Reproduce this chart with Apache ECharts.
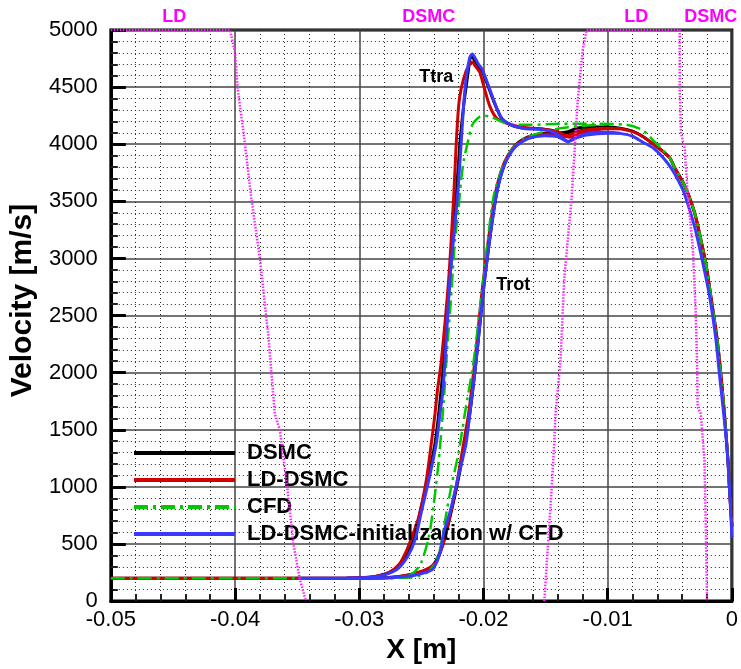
<!DOCTYPE html>
<html><head><meta charset="utf-8">
<script src="https://cdn.jsdelivr.net/npm/echarts@6/dist/echarts.min.js"></script>
<style>html,body{margin:0;padding:0;background:#fff}#c{width:741px;height:669px}</style>
</head><body><div id="c"></div><script>
// ---- data (x [m], velocity [m/s]) ----
const seriesNames = ['DSMC', 'LD-DSMC', 'CFD', 'LD-DSMC-initialization w/ CFD'];

const dsmcTtra = [[-0.05,200],[-0.031,200],[-0.0287,215],[-0.0272,270],[-0.0263,380],[-0.0256,540],[-0.0251,780],[-0.0245,1060],[-0.0239,1380],[-0.0236,1640],[-0.0232,2095],[-0.0227,2820],[-0.0222,3534],[-0.0219,4000],[-0.0216,4336],[-0.0213,4580],[-0.0211,4740],[-0.0210,4775],[-0.0208,4750],[-0.0205,4700],[-0.0201,4640],[-0.0195,4470],[-0.0190,4330],[-0.0185,4220],[-0.0177,4165],[-0.0167,4140],[-0.0155,4135],[-0.0145,4120],[-0.0138,4100],[-0.0132,4110],[-0.0125,4140],[-0.0115,4150],[-0.0100,4150],[-0.0090,4140],[-0.0080,4115],[-0.0072,4070],[-0.0063,4000],[-0.0057,3950],[-0.0050,3880],[-0.0046,3793],[-0.0040,3680],[-0.0035,3560],[-0.0030,3400],[-0.0026,3215],[-0.0021,2957],[-0.0017,2672],[-0.0012,2302],[-0.0009,2000],[-0.0006,1640],[-0.0003,1207],[-0.0002,1000],[0,650]];
const dsmcTrot = [[-0.031,200],[-0.0280,205],[-0.0262,225],[-0.0248,265],[-0.0241,310],[-0.0236,400],[-0.0231,560],[-0.0226,780],[-0.0220,1080],[-0.0215,1380],[-0.0211,1640],[-0.0206,2095],[-0.0199,2820],[-0.0190,3534],[-0.0183,3830],[-0.0175,3985],[-0.0164,4065],[-0.0152,4095],[-0.0142,4100],[-0.0134,4090],[-0.0125,4110],[-0.0112,4135],[-0.0100,4150]];

const ldTtra = [[-0.05,200],[-0.032,200],[-0.029,212],[-0.0277,245],[-0.0268,320],[-0.0262,440],[-0.0257,580],[-0.0252,740],[-0.0246,1060],[-0.0242,1380],[-0.0239,1640],[-0.0237,1850],[-0.0234,2095],[-0.0228,2820],[-0.0224,3534],[-0.0222,3990],[-0.0220,4336],[-0.0218,4483],[-0.0214,4640],[-0.0211,4700],[-0.0209,4720],[-0.0207,4690],[-0.0203,4630],[-0.0200,4520],[-0.0195,4336],[-0.0189,4224],[-0.0180,4180],[-0.0170,4150],[-0.0160,4140],[-0.0150,4130],[-0.0140,4110],[-0.0133,4075],[-0.0125,4105],[-0.0115,4130],[-0.0100,4140],[-0.0090,4135],[-0.0080,4110],[-0.0072,4070],[-0.0063,4000],[-0.0057,3950],[-0.0050,3880],[-0.0046,3793],[-0.0040,3680],[-0.0035,3560],[-0.0030,3400],[-0.0026,3215],[-0.0021,2957],[-0.0017,2672],[-0.0012,2302],[-0.0009,2000],[-0.0006,1640],[-0.0003,1207],[-0.0002,1000],[0,650]];
const ldTrot = [[-0.031,200],[-0.0280,205],[-0.0265,220],[-0.0250,260],[-0.0242,300],[-0.0238,345],[-0.0233,480],[-0.0228,700],[-0.0222,1000],[-0.0216,1380],[-0.0212,1640],[-0.0207,2095],[-0.0200,2820],[-0.0191,3534],[-0.0184,3820],[-0.0176,3970],[-0.0165,4055],[-0.0152,4090],[-0.0142,4090],[-0.0135,4070],[-0.0130,4060],[-0.0122,4100],[-0.0110,4125],[-0.0100,4135],[-0.0090,4135]];

const cfdTtra = [[-0.05,200],[-0.029,200],[-0.0264,210],[-0.0256,250],[-0.0250,340],[-0.0244,560],[-0.0240,850],[-0.0236,1230],[-0.0232,1750],[-0.0229,2241],[-0.0226,2672],[-0.0223,3150],[-0.0220,3450],[-0.0218,3680],[-0.0216,3850],[-0.0213,4000],[-0.0209,4170],[-0.0203,4240],[-0.0199,4250],[-0.0193,4235],[-0.0185,4195],[-0.0177,4170],[-0.0161,4170],[-0.0138,4180],[-0.0112,4180],[-0.0085,4170],[-0.0072,4125],[-0.0063,4030],[-0.0057,3965],[-0.0050,3880],[-0.0046,3793],[-0.0040,3680],[-0.0035,3560],[-0.0030,3400],[-0.0026,3215],[-0.0021,2957],[-0.0017,2672],[-0.0012,2302],[-0.0009,2000],[-0.0006,1640],[-0.0003,1207],[-0.0002,1000],[0,650]];
const cfdTrot = [[-0.029,200],[-0.0269,202],[-0.0252,220],[-0.0244,260],[-0.0239,330],[-0.0235,450],[-0.0231,700],[-0.0226,1000],[-0.0220,1300],[-0.0215,1640],[-0.0208,2095],[-0.0200,2820],[-0.0192,3534],[-0.0184,3820],[-0.0176,3970],[-0.0165,4060],[-0.0151,4110],[-0.0138,4140],[-0.0122,4160],[-0.0106,4170]];

const initTtra = [[-0.035,200],[-0.031,200],[-0.0285,215],[-0.0270,275],[-0.0261,390],[-0.0255,540],[-0.0250,780],[-0.0244,1060],[-0.0238,1380],[-0.0235,1640],[-0.0233,1810],[-0.0231,2095],[-0.0227,2820],[-0.0221,3534],[-0.0218,4000],[-0.0216,4336],[-0.0214,4570],[-0.0211,4760],[-0.0209,4790],[-0.0207,4760],[-0.0204,4700],[-0.0201,4655],[-0.0195,4483],[-0.0190,4336],[-0.0185,4224],[-0.0177,4165],[-0.0167,4138],[-0.0155,4130],[-0.0145,4110],[-0.0138,4070],[-0.0132,4025],[-0.0126,4055],[-0.0118,4090],[-0.0110,4105],[-0.0100,4105],[-0.0090,4095],[-0.0080,4070],[-0.0072,4020],[-0.0063,3965],[-0.0056,3890],[-0.0049,3793],[-0.0043,3680],[-0.0038,3560],[-0.0030,3276],[-0.0024,2991],[-0.0018,2672],[-0.0013,2302],[-0.0010,1983],[-0.0008,1784],[-0.0004,1353],[-0.00016,922],[0,560]];
const initTrot = [[-0.031,200],[-0.0280,203],[-0.0256,225],[-0.0244,260],[-0.0240,290],[-0.0235,420],[-0.0232,600],[-0.0227,776],[-0.0220,1100],[-0.0214,1380],[-0.0211,1640],[-0.0206,2095],[-0.0199,2820],[-0.0190,3534],[-0.0183,3820],[-0.0175,3970],[-0.0164,4050],[-0.0151,4075],[-0.0140,4065],[-0.0132,4022],[-0.0125,4055],[-0.0117,4080],[-0.0100,4095],[-0.0090,4095]];

// LD / DSMC interface lines
const interfaceLeft = [[-0.05,5000],[-0.0404,5000],[-0.0400,4800],[-0.0398,4500],[-0.0392,4000],[-0.0387,3534],[-0.0380,3000],[-0.0373,2300],[-0.0368,1640],[-0.0364,1500],[-0.0358,1000],[-0.0353,500],[-0.0348,200],[-0.0343,0]];
const interfaceRight = [[-0.0151,0],[-0.0148,500],[-0.0145,1000],[-0.0143,1400],[-0.0142,1640],[-0.0138,2100],[-0.0135,2820],[-0.0129,3534],[-0.0124,4400],[-0.0120,4830],[-0.0117,5000],[-0.0042,5000],[-0.0042,4500],[-0.0041,4100],[-0.0038,3965],[-0.00354,3534],[-0.00315,3103],[-0.00291,2526],[-0.0028,2069],[-0.00276,1700],[-0.0025,1640],[-0.0022,1207],[-0.0021,630],[-0.0020,0]];

// annotations
const regionLabels = ['LD', 'DSMC', 'LD', 'DSMC'];
const regionLabelX = [-0.0449, -0.0244, -0.0077, -0.0017];
const curveLabels = ['Ttra', 'Trot'];
const curveLabelPos = [[-0.0238, 4586], [-0.0176, 2767]];

// axes
const xMin = -0.05, xMax = 0, xStep = 0.01;
const yMin = 0, yMax = 5000, yStep = 500;

const FONT = '"Liberation Sans", Arial, sans-serif';
const colors = {DSMC:'#000000', 'LD-DSMC':'#d00000', CFD:'#00c800', 'LD-DSMC-initialization w/ CFD':'#3838ff'};
const dashDot = [14, 5, 3, 5];

function mk(name, data, width, type, z) {
  return {name, type:'line', data, symbol:'none', showSymbol:false, smooth:0.25,
    lineStyle:{color:colors[name], width, type}, itemStyle:{color:colors[name]}, z, animation:false};
}
function iface(data) {
  return {name:'interface', type:'line', data, symbol:'none', showSymbol:false,
    lineStyle:{color:'#ff22ff', width:2.5, type:[1.5,1.5]}, z:10, animation:false, silent:true};
}

const axisCommon = {
  axisLine:{show:true, onZero:false, lineStyle:{color:'#000', width:3}},
  splitLine:{show:true, lineStyle:{color:'#444', width:1.5}},
  minorSplitLine:{show:true, lineStyle:{color:'#222', width:1, type:[1,3]}},
};

const chart = echarts.init(document.getElementById('c'), null, {renderer:'canvas'});
chart.setOption({
  backgroundColor:'#fff',
  animation:false,
  grid:{left:100, right:7, top:30, bottom:59, show:true, borderColor:'#000', borderWidth:3},
  xAxis:Object.assign({type:'value', min:xMin, max:xMax, interval:xStep,
    axisTick:{show:true, inside:true, length:13, lineStyle:{color:'#000', width:3}},
    minorTick:{show:true, splitNumber:5, length:7, lineStyle:{color:'#222', width:2}},
    axisLabel:{color:'#000', fontSize:22, fontFamily:FONT, margin:8, formatter:v => String(v)},
    name:'X [m]', nameLocation:'middle', nameGap:26,
    nameTextStyle:{fontSize:28, fontWeight:'bold', color:'#000', fontFamily:FONT}}, axisCommon),
  yAxis:Object.assign({type:'value', min:yMin, max:yMax, interval:yStep,
    axisTick:{show:true, inside:true, length:15, lineStyle:{color:'#000', width:3}},
    minorTick:{show:true, splitNumber:5, length:7, lineStyle:{color:'#222', width:2}},
    axisLabel:{color:'#000', fontSize:22, fontFamily:FONT, margin:13, formatter:v => String(v)},
    name:'Velocity [m/s]', nameLocation:'middle', nameGap:54,
    nameTextStyle:{fontSize:30, fontWeight:'bold', color:'#000', fontFamily:FONT, padding:[0,0,0,30]}}, axisCommon),
  legend:{data:seriesNames, orient:'vertical', left:127, top:436, itemWidth:101, itemHeight:14, itemGap:3,
    itemStyle:{opacity:0}, lineStyle:{width:4},
    textStyle:{fontSize:22, fontWeight:'bold', color:'#000', fontFamily:FONT, lineHeight:24, padding:[0,0,0,7]},
    selectedMode:false},
  series:[
    mk('DSMC', dsmcTtra, 3, 'solid', 2), mk('DSMC', dsmcTrot, 3, 'solid', 2),
    mk('LD-DSMC', ldTtra, 3, 'solid', 3), mk('LD-DSMC', ldTrot, 3, 'solid', 3),
    mk('CFD', cfdTtra, 2.5, dashDot, 4), mk('CFD', cfdTrot, 2.5, dashDot, 4),
    mk('LD-DSMC-initialization w/ CFD', initTtra, 3, 'solid', 5), mk('LD-DSMC-initialization w/ CFD', initTrot, 3, 'solid', 5),
    iface(interfaceLeft), iface(interfaceRight)
  ]
});

const g = [];
regionLabels.forEach((t, i) => {
  const p = chart.convertToPixel({gridIndex:0}, [regionLabelX[i], yMax]);
  g.push({type:'text', x:p[0], y:p[1]-13, style:{text:t, fill:'#ff00ff', font:'bold 18px ' + FONT, align:'center', verticalAlign:'middle'}, z:20});
});
curveLabels.forEach((t, i) => {
  const p = chart.convertToPixel({gridIndex:0}, curveLabelPos[i]);
  g.push({type:'text', x:p[0], y:p[1], style:{text:t, fill:'#000', font:'bold 18px ' + FONT, align:'center', verticalAlign:'middle'}, z:20});
});
chart.setOption({graphic:g});
</script></body></html>
